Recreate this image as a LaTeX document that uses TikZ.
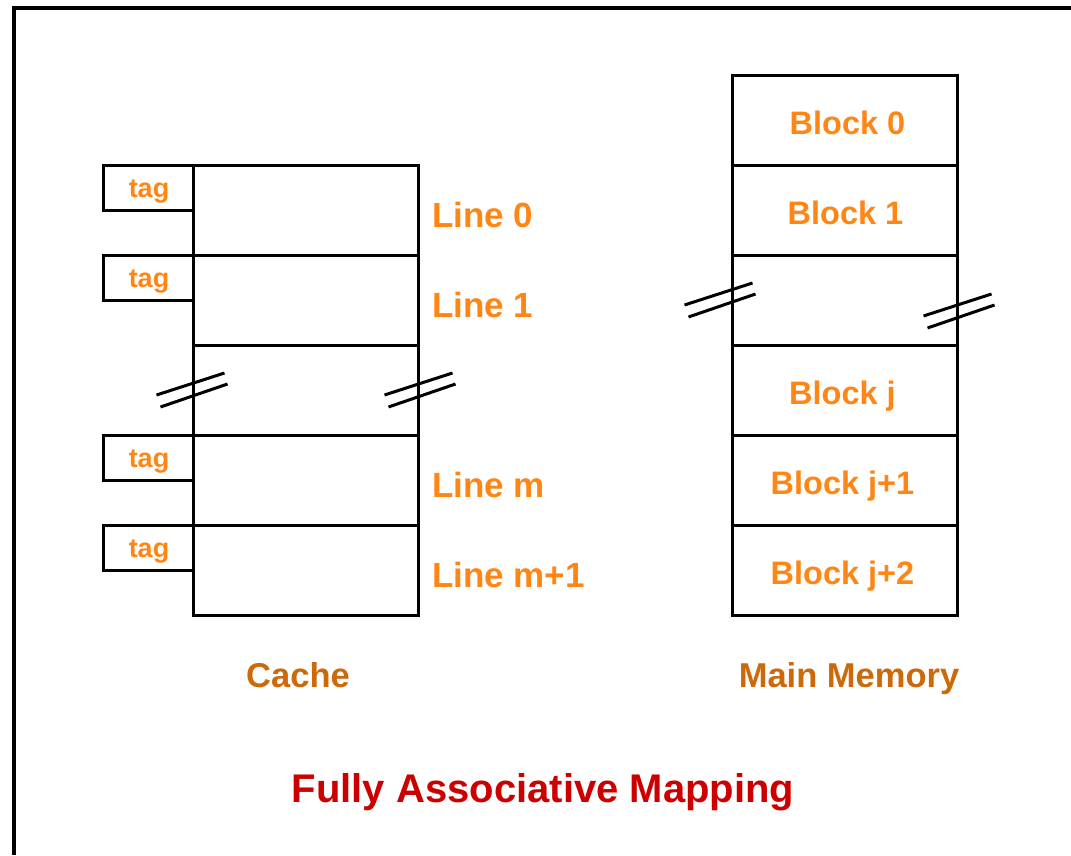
\documentclass[tikz,border=0pt]{standalone}
\usepackage{fontspec}
\setmainfont{Liberation Sans}
\usetikzlibrary{positioning}
\definecolor{lblorange}{HTML}{FF8515}
\definecolor{caporange}{HTML}{CC6A0A}
\definecolor{titlered}{HTML}{CC0000}

% two short strokes across a side of a box
\newcommand\brkmark[1]{%
  \draw ([shift={(-35,5)}]#1) -- ([shift={(33,-17)}]#1);
  \draw ([shift={(-31,17)}]#1) -- ([shift={(36,-6)}]#1);}

\begin{document}
\begin{tikzpicture}[x=1pt,y=-1pt,line width=3pt,
  row node/.style={rectangle,draw,minimum width=225pt,minimum height=90pt,inner sep=0pt},
  tag node/.style={rectangle,draw,minimum width=90pt,minimum height=45pt,inner sep=0pt},
  tag text/.style={anchor=base,inner sep=0pt,text=lblorange,font=\bfseries\fontsize{27}{30}\selectfont},
  line label/.style={anchor=base west,inner sep=0pt,text=lblorange,font=\bfseries\fontsize{35}{40}\selectfont},
  block label/.style={anchor=base,inner sep=0pt,text=lblorange,font=\bfseries\fontsize{32.5}{38}\selectfont},
  part label/.style={anchor=base,inner sep=0pt,text=caporange,font=\bfseries\fontsize{34.5}{40}\selectfont}]

  \useasboundingbox (0,0) rectangle (1071,855);
  \fill[white] (0,0) rectangle (1071,855);
  \draw[line width=3.5pt] (1071,8) -- (14,8) -- (14,855);

  % cache
  \node[tag node] (t0) at (148,187.5) {};
  \node[tag node] (t1) at (148,277.5) {};
  \node[tag node] (t3) at (148,457.5) {};
  \node[tag node] (t4) at (148,547.5) {};

  \node[row node] (c0) at (305.5,210) {};
  \node[row node] (c1) at (305.5,300) {};
  \node[row node] (c2) at (305.5,390) {};
  \node[row node] (c3) at (305.5,480) {};
  \node[row node] (c4) at (305.5,570) {};

  \node[tag text] (tt0) at ([shift={(1,9.5)}]t0.center) {tag};
  \node[tag text] (tt1) at ([shift={(1,9.5)}]t1.center) {tag};
  \node[tag text] (tt3) at ([shift={(1,9.5)}]t3.center) {tag};
  \node[tag text] (tt4) at ([shift={(1,9.5)}]t4.center) {tag};

  \node[line label] (l0) at ([shift={(11,17)}]c0.east) {Line 0};
  \node[line label] (l1) at ([shift={(11,17)}]c1.east) {Line 1};
  \node[line label] (l3) at ([shift={(11,17)}]c3.east) {Line m};
  \node[line label] (l4) at ([shift={(11,17)}]c4.east) {Line m+1};

  \brkmark{c2.west}
  \brkmark{c2.east}

  % main memory
  \node[row node] (m0) at (844.5,120) {};
  \node[row node] (m1) at (844.5,210) {};
  \node[row node] (m2) at (844.5,300) {};
  \node[row node] (m3) at (844.5,390) {};
  \node[row node] (m4) at (844.5,480) {};
  \node[row node] (m5) at (844.5,570) {};

  \node[block label] (b0) at ([shift={(3,14)}]m0.center) {Block 0};
  \node[block label] (b1) at ([shift={(1,14)}]m1.center) {Block 1};
  \node[block label] (b3) at ([shift={(-2,14)}]m3.center) {Block j};
  \node[block label] (b4) at ([shift={(-2,14)}]m4.center) {Block j+1};
  \node[block label] (b5) at ([shift={(-2,14)}]m5.center) {Block j+2};

  \coordinate (ml) at ([shift={(-11,0)}]m2.west);
  \coordinate (mr) at ([shift={(0,11)}]m2.east);
  \brkmark{ml}
  \brkmark{mr}

  % captions
  \node[part label] (cache) at (298,687) {Cache};
  \node[part label] (mem) at (849,687) {Main Memory};
  \node[part label,text=titlered,font=\bfseries\fontsize{40}{46}\selectfont] (title) at (543,802) {Fully Associative Mapping};
\end{tikzpicture}
\end{document}
